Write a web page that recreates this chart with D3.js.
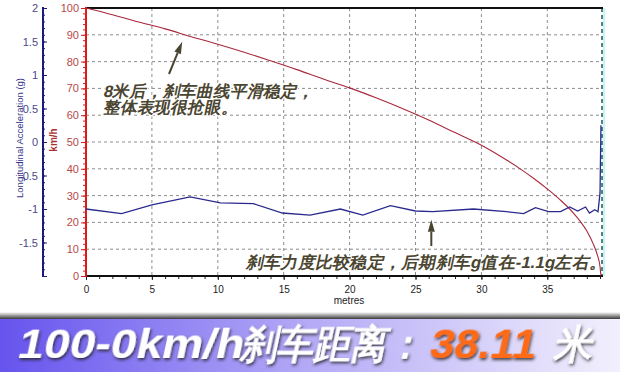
<!DOCTYPE html>
<html>
<head>
<meta charset="utf-8">
<script src="https://cdn.jsdelivr.net/npm/d3@7"></script>
<style>
  body { margin: 0; background: #fff; }
  svg { display: block; }
  text { font-family: Arial, "Liberation Sans", sans-serif; }
</style>
</head>
<body>
<svg id="canvas"></svg>
<script>
// speed trace (km/h vs metres)
const speedDist = [0, 2, 4, 6, 8, 10, 12, 14, 16, 18, 20, 22, 24, 26, 28, 30, 32, 33, 34, 35, 36, 37, 37.5, 38, 38.5, 38.8, 39.0, 39.07];
const speedVal  = [100, 97.5, 94.8, 92.2, 89.3, 86.5, 83.5, 80.3, 77, 73.5, 70.2, 66.5, 62.5, 58.2, 53.5, 48.8, 43, 39.8, 36.3, 32.5, 28.3, 23.4, 20.4, 16.8, 11.8, 7.8, 3.5, 0];

// longitudinal acceleration (g vs metres)
const accDist = [0, 2.7, 5.0, 7.9, 10.2, 12.7, 14.9, 17.0, 19.3, 21.0, 23.1, 25.0, 26.3, 29.4, 31.9, 33.2, 34.1, 35.1, 36.0, 36.7, 37.3, 37.9, 38.2, 38.6, 38.85, 39.0, 39.07];
const accVal  = [-1.0, -1.07, -0.94, -0.82, -0.91, -0.92, -1.06, -1.09, -1.0, -1.09, -0.95, -1.03, -1.04, -1.0, -1.04, -1.07, -0.98, -1.04, -1.04, -0.97, -1.03, -0.97, -1.06, -1.01, -1.04, -0.76, 0.25];

const xTicks = [0, 5, 10, 15, 20, 25, 30, 35];
const speedTicks = [0, 10, 20, 30, 40, 50, 60, 70, 80, 90, 100];
const accTicks = [-1.5, -1, -0.5, 0, 0.5, 1, 1.5, 2];

const note1 = ["8米后，刹车曲线平滑稳定，", "整体表现很抢眼。"];
const note2 = "刹车力度比较稳定，后期刹车g值在-1.1g左右。";

const width = 620;
const height = 372;

const svg = d3.select('#canvas')
  .attr('width', width)
  .attr('height', height);

const x = d3.scaleLinear().domain([0, 39.15]).range([86, 602]);
const ySpeed = d3.scaleLinear().domain([0, 100]).range([276, 8]);
const yAcc = d3.scaleLinear().domain([-2, 2]).range([276, 8]);

// grid
const grid = svg.append('g');
grid.selectAll('line.v')
  .data(xTicks.filter(d => d > 0))
  .enter().append('line')
  .attr('x1', d => x(d)).attr('x2', d => x(d))
  .attr('y1', ySpeed(100)).attr('y2', ySpeed(0))
  .attr('stroke', '#8c8c8c').attr('stroke-dasharray', '3,3');
grid.selectAll('line.h')
  .data(speedTicks.filter(d => d > 0 && d < 100))
  .enter().append('line')
  .attr('x1', x(0)).attr('x2', x.range()[1])
  .attr('y1', d => ySpeed(d)).attr('y2', d => ySpeed(d))
  .attr('stroke', '#8c8c8c').attr('stroke-dasharray', '3,3');

// right edge
svg.append('line')
  .attr('x1', 604).attr('x2', 604).attr('y1', 8).attr('y2', 276)
  .attr('stroke', '#cdf2f2').attr('stroke-width', 2.5);
svg.append('line')
  .attr('x1', 602).attr('x2', 602).attr('y1', 8).attr('y2', 276)
  .attr('stroke', '#1f5a5a').attr('stroke-width', 1.5).attr('stroke-dasharray', '4,3');

// top border
svg.append('line')
  .attr('x1', x(0)).attr('x2', 603).attr('y1', 8).attr('y2', 8)
  .attr('stroke', '#111').attr('stroke-width', 2);

// x axis
const xAxisMinor = d3.axisBottom(x).tickValues(d3.range(0, 40, 1)).tickSize(3).tickFormat('');
const gxm = svg.append('g').attr('transform', 'translate(0,276)').call(xAxisMinor);
gxm.select('.domain').remove();
gxm.selectAll('line').attr('stroke', '#222');

const xAxis = d3.axisBottom(x).tickValues(xTicks).tickSize(4).tickPadding(6);
const gx = svg.append('g').attr('transform', 'translate(0,276)').call(xAxis);
gx.select('.domain').remove();
gx.selectAll('line').attr('stroke', '#222');
gx.selectAll('text').attr('font-size', 10).attr('fill', '#222').attr('font-family', 'Arial, sans-serif');

svg.append('line')
  .attr('x1', x(0) - 1).attr('x2', 603).attr('y1', 276).attr('y2', 276)
  .attr('stroke', '#111').attr('stroke-width', 2);

svg.append('text')
  .attr('x', 349).attr('y', 304)
  .attr('text-anchor', 'middle')
  .attr('font-size', 10).attr('fill', '#222')
  .text('metres');

// speed axis (red)
const sMinor = d3.axisLeft(ySpeed).tickValues(d3.range(0, 101, 2)).tickSize(3).tickFormat('');
const gsm = svg.append('g').attr('transform', `translate(${x(0)},0)`).call(sMinor);
gsm.select('.domain').remove();
gsm.selectAll('line').attr('stroke', '#d02020');

const sAxis = d3.axisLeft(ySpeed).tickValues(speedTicks).tickSize(5).tickPadding(2);
const gs = svg.append('g').attr('transform', `translate(${x(0)},0)`).call(sAxis);
gs.select('.domain').remove();
gs.selectAll('line').attr('stroke', '#d02020');
gs.selectAll('text').attr('font-size', 11).attr('fill', '#b84848').attr('font-family', 'Arial, sans-serif');

svg.append('line')
  .attr('x1', x(0)).attr('x2', x(0)).attr('y1', 7).attr('y2', 277)
  .attr('stroke', '#e01818').attr('stroke-width', 2);

svg.append('text')
  .attr('transform', 'translate(57,140) rotate(-90)')
  .attr('text-anchor', 'middle')
  .attr('font-size', 10).attr('font-weight', 'bold').attr('fill', '#a83030')
  .text('km/h');

// acceleration axis (blue)
const axX = 43;
const aMinor = d3.axisRight(yAcc).tickValues(d3.range(-20, 21, 1).map(d => d / 10)).tickSize(2).tickFormat('');
const gam = svg.append('g').attr('transform', `translate(${axX},0)`).call(aMinor);
gam.select('.domain').remove();
gam.selectAll('line').attr('stroke', '#1a1a7a');

const aAxis = d3.axisLeft(yAcc).tickValues(accTicks).tickSize(0).tickPadding(5)
  .tickFormat(d => String(d));
const ga = svg.append('g').attr('transform', `translate(${axX},0)`).call(aAxis);
ga.select('.domain').remove();
ga.selectAll('text').attr('font-size', 11).attr('fill', '#4a4a8a').attr('font-family', 'Arial, sans-serif');

const aMajor = d3.axisRight(yAcc).tickValues(accTicks.concat([-2])).tickSize(4).tickFormat('');
const gaM = svg.append('g').attr('transform', `translate(${axX},0)`).call(aMajor);
gaM.select('.domain').remove();
gaM.selectAll('line').attr('stroke', '#1a1a7a');

svg.append('line')
  .attr('x1', axX).attr('x2', axX).attr('y1', 7).attr('y2', 277)
  .attr('stroke', '#1a1a80').attr('stroke-width', 2);

svg.append('text')
  .attr('transform', 'translate(23,138) rotate(-90)')
  .attr('text-anchor', 'middle')
  .attr('font-size', 9).attr('fill', '#33338a')
  .attr('textLength', 120).attr('lengthAdjust', 'spacingAndGlyphs')
  .text('Longitudinal Acceleration (g)');

// series
const speedLine = d3.line()
  .x((d, i) => x(speedDist[i]))
  .y(d => ySpeed(d))
  .curve(d3.curveMonotoneX);
svg.append('path')
  .attr('d', speedLine(speedVal))
  .attr('fill', 'none').attr('stroke', '#a8283c').attr('stroke-width', 1.1);

const accLine = d3.line()
  .x((d, i) => x(accDist[i]))
  .y(d => yAcc(d));
svg.append('path')
  .attr('d', accLine(accVal))
  .attr('fill', 'none').attr('stroke', '#2a2a8e').attr('stroke-width', 1.3);

// annotations
const noteColor = '#4a4530';
const cjk = '"Noto Sans CJK SC", "Noto Sans", sans-serif';

function arrow(x1, y1, x2, y2) {
  const ang = Math.atan2(y2 - y1, x2 - x1);
  const len = 12, half = 3.5;
  const bx = x2 - len * Math.cos(ang), by = y2 - len * Math.sin(ang);
  svg.append('line')
    .attr('x1', x1).attr('y1', y1).attr('x2', bx).attr('y2', by)
    .attr('stroke', noteColor).attr('stroke-width', 2);
  svg.append('path')
    .attr('d', `M${x2},${y2}L${bx + half * Math.sin(ang)},${by - half * Math.cos(ang)}L${bx - half * Math.sin(ang)},${by + half * Math.cos(ang)}Z`)
    .attr('fill', noteColor);
}

arrow(169, 74, x(7.3), ySpeed(88.5) + 3);
arrow(x(26.2), 246, x(26.2), yAcc(-1.16));

svg.selectAll('text.note1')
  .data(note1)
  .enter().append('text')
  .attr('transform', (d, i) => `translate(103,${97 + i * 16}) skewX(-12)`)
  .attr('font-family', cjk).attr('font-size', 16.5).attr('font-weight', 'bold')
  .attr('fill', noteColor)
  .attr('stroke', '#fff').attr('stroke-width', 2.5).attr('paint-order', 'stroke')
  .text(d => d);

svg.append('text')
  .attr('transform', 'translate(246,268) skewX(-12)')
  .attr('font-family', cjk).attr('font-size', 16.5).attr('font-weight', 'bold')
  .attr('fill', noteColor)
  .attr('stroke', '#fff').attr('stroke-width', 2.5).attr('paint-order', 'stroke')
  .attr('textLength', 360).attr('lengthAdjust', 'spacingAndGlyphs')
  .text(note2);

// banner
const defs = svg.append('defs');
const bg = defs.append('linearGradient').attr('id', 'bannerGrad');
bg.append('stop').attr('offset', '0%').attr('stop-color', '#6654ee');
bg.append('stop').attr('offset', '50%').attr('stop-color', '#b4aaf6');
bg.append('stop').attr('offset', '100%').attr('stop-color', '#f2f0fd');

const edge = defs.append('linearGradient').attr('id', 'edgeGrad')
  .attr('x1', 0).attr('x2', 0).attr('y1', 0).attr('y2', 1);
edge.append('stop').attr('offset', '0%').attr('stop-color', '#ffffff');
edge.append('stop').attr('offset', '100%').attr('stop-color', '#3a3a3a');

const sh = defs.append('filter').attr('id', 'shadow')
  .attr('x', '-10%').attr('y', '-20%').attr('width', '130%').attr('height', '150%');
sh.append('feDropShadow').attr('dx', 1.5).attr('dy', 2).attr('stdDeviation', 1.5)
  .attr('flood-color', '#222').attr('flood-opacity', 0.8);

svg.append('rect')
  .attr('x', 0).attr('y', 312).attr('width', width).attr('height', 7)
  .attr('fill', 'url(#edgeGrad)');
svg.append('rect')
  .attr('x', 0).attr('y', 319).attr('width', width).attr('height', 53)
  .attr('fill', 'url(#bannerGrad)');

function bannerText(str, x0, len, size, family, fill, weight) {
  svg.append('text')
    .attr('transform', `translate(${x0},358) skewX(-12)`)
    .attr('font-family', family).attr('font-size', size)
    .attr('font-weight', weight)
    .attr('fill', fill)
    .attr('filter', 'url(#shadow)')
    .attr('textLength', len).attr('lengthAdjust', 'spacingAndGlyphs')
    .text(str);
}
const latin = '"DejaVu Sans", Arial, sans-serif';
bannerText('100-0km/h', 16, 226, 42, latin, '#fff', 'bold');
bannerText('刹车距离：', 240, 182, 40, cjk, '#fff', 900);
bannerText('38.11', 428, 106, 42, latin, '#ff6a14', 'bold');
bannerText('米', 553, 38, 40, cjk, '#fff', 900);
</script>
</body>
</html>
